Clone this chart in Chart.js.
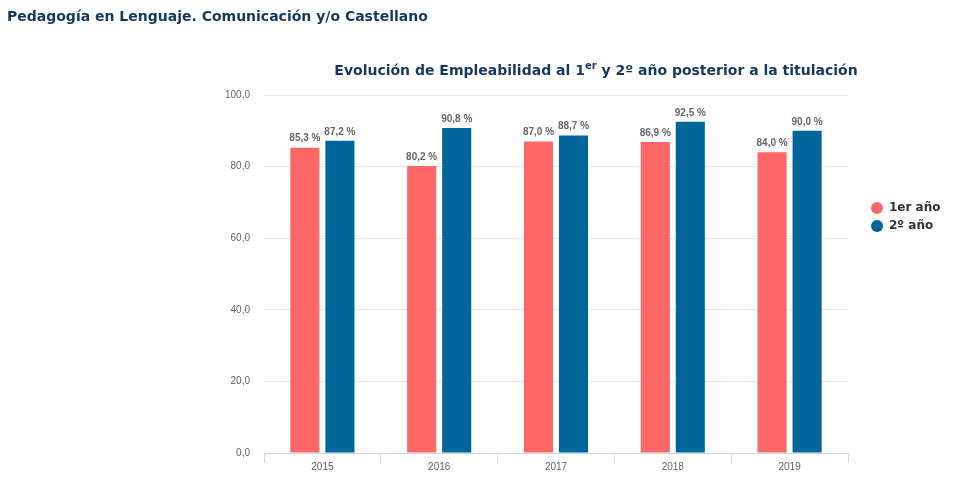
<!DOCTYPE html>
<html>
<head>
<meta charset="utf-8">
<script src="https://cdn.jsdelivr.net/npm/chart.js@4"></script>
<style>
body{margin:0;background:#fff;}
#wrap{position:absolute;left:0;top:0;width:976px;height:487px;}
h1{position:absolute;left:7px;top:0;margin:0;font:bold 14px "DejaVu Sans";color:#17375e;line-height:33px;}
</style>
</head>
<body>
<div id="wrap"><canvas id="empleo"></canvas></div>
<h1>Pedagogía en Lenguaje. Comunicación y/o Castellano</h1>
<script>
// datos
const years = ["2015","2016","2017","2018","2019"]
const primerAnio = [85.3,80.2,87.0,86.9,84.0]
const segundoAnio = [87.2,90.8,88.7,92.5,90.0]
const yTicks = [0,20,40,60,80,100]
const serieNombres = ["1er año","2º año"]
const colores = ["#ff6666","#006699"]

const coma = v => v.toFixed(1).replace(".", ",")

// titulo con el "er" en superindice
const titulo = {
  id:"titulo",
  afterDraw(chart){
    const ctx = chart.ctx
    const big = 'bold 14px "DejaVu Sans"', small = 'bold 10px "DejaVu Sans"'
    const a = "Evolución de Empleabilidad al 1", sup = "er", b = " y 2º año posterior a la titulación"
    ctx.save()
    ctx.font = big
    const wa = ctx.measureText(a).width, wb = ctx.measureText(b).width
    ctx.font = small
    const ws = ctx.measureText(sup).width
    let x = 596 - (wa + ws + wb) / 2
    const y = 75
    ctx.fillStyle = "#17375e"
    ctx.textBaseline = "alphabetic"
    ctx.font = big; ctx.fillText(a, x, y); x += wa
    ctx.font = small; ctx.fillText(sup, x, y - 6); x += ws
    ctx.font = big; ctx.fillText(b, x, y)
    ctx.restore()
  }
}

// leyenda a la derecha
const leyenda = {
  id:"leyenda",
  afterDraw(chart){
    const ctx = chart.ctx
    ctx.save()
    ctx.font = 'bold 12px "DejaVu Sans"'
    ctx.textBaseline = "middle"
    chart.data.datasets.forEach((ds,i)=>{
      const y = 208 + i * 18
      ctx.fillStyle = ds.backgroundColor
      ctx.beginPath(); ctx.arc(877, y, 6, 0, Math.PI * 2); ctx.fill()
      ctx.fillStyle = "#333"
      ctx.fillText(ds.label, 889, y)
    })
    ctx.restore()
  }
}

// etiquetas sobre las barras
const etiquetas = {
  id:"etiquetas",
  afterDatasetsDraw(chart){
    const ctx = chart.ctx
    ctx.save()
    ctx.font = 'bold 10px "Liberation Sans"'
    ctx.fillStyle = "#666"
    ctx.textAlign = "center"
    ctx.textBaseline = "bottom"
    chart.data.datasets.forEach((ds,i)=>{
      chart.getDatasetMeta(i).data.forEach((bar,j)=>{
        ctx.fillText(coma(ds.data[j]) + " %", bar.x, bar.y - 4)
      })
    })
    ctx.restore()
  }
}

const empleo = document.getElementById("empleo")
let chart = new Chart(empleo,{
  type:"bar",
  data:{
    labels: years,
    datasets:[
      {label: serieNombres[0], data: primerAnio, backgroundColor: colores[0]},
      {label: serieNombres[1], data: segundoAnio, backgroundColor: colores[1]}
    ]
  },
  options:{
    responsive:true,
    maintainAspectRatio:false,
    animation:false,
    categoryPercentage:0.6,
    barPercentage:0.83,
    layout:{padding:{left:216, right:128, top:95, bottom:16}},
    plugins:{legend:{display:false}, title:{display:false}, tooltip:{enabled:false}},
    scales:{
      x:{
        grid:{offset:true, drawOnChartArea:false, tickLength:10, color:"#ccd6eb"},
        border:{color:"#ccd6eb"},
        ticks:{color:"#666", font:{family:"Liberation Sans", size:10}, padding:-2}
      },
      y:{
        min:0, max:100,
        afterBuildTicks: s => { s.ticks = yTicks.map(v => ({value:v})) },
        afterFit: s => { s.width = 48 },
        grid:{color:"#e6e6e6", drawTicks:false},
        border:{display:false},
        ticks:{color:"#666", font:{family:"Liberation Sans", size:10}, padding:14, callback: v => coma(v)}
      }
    }
  },
  plugins:[titulo, leyenda, etiquetas]
})
</script>
</body>
</html>
